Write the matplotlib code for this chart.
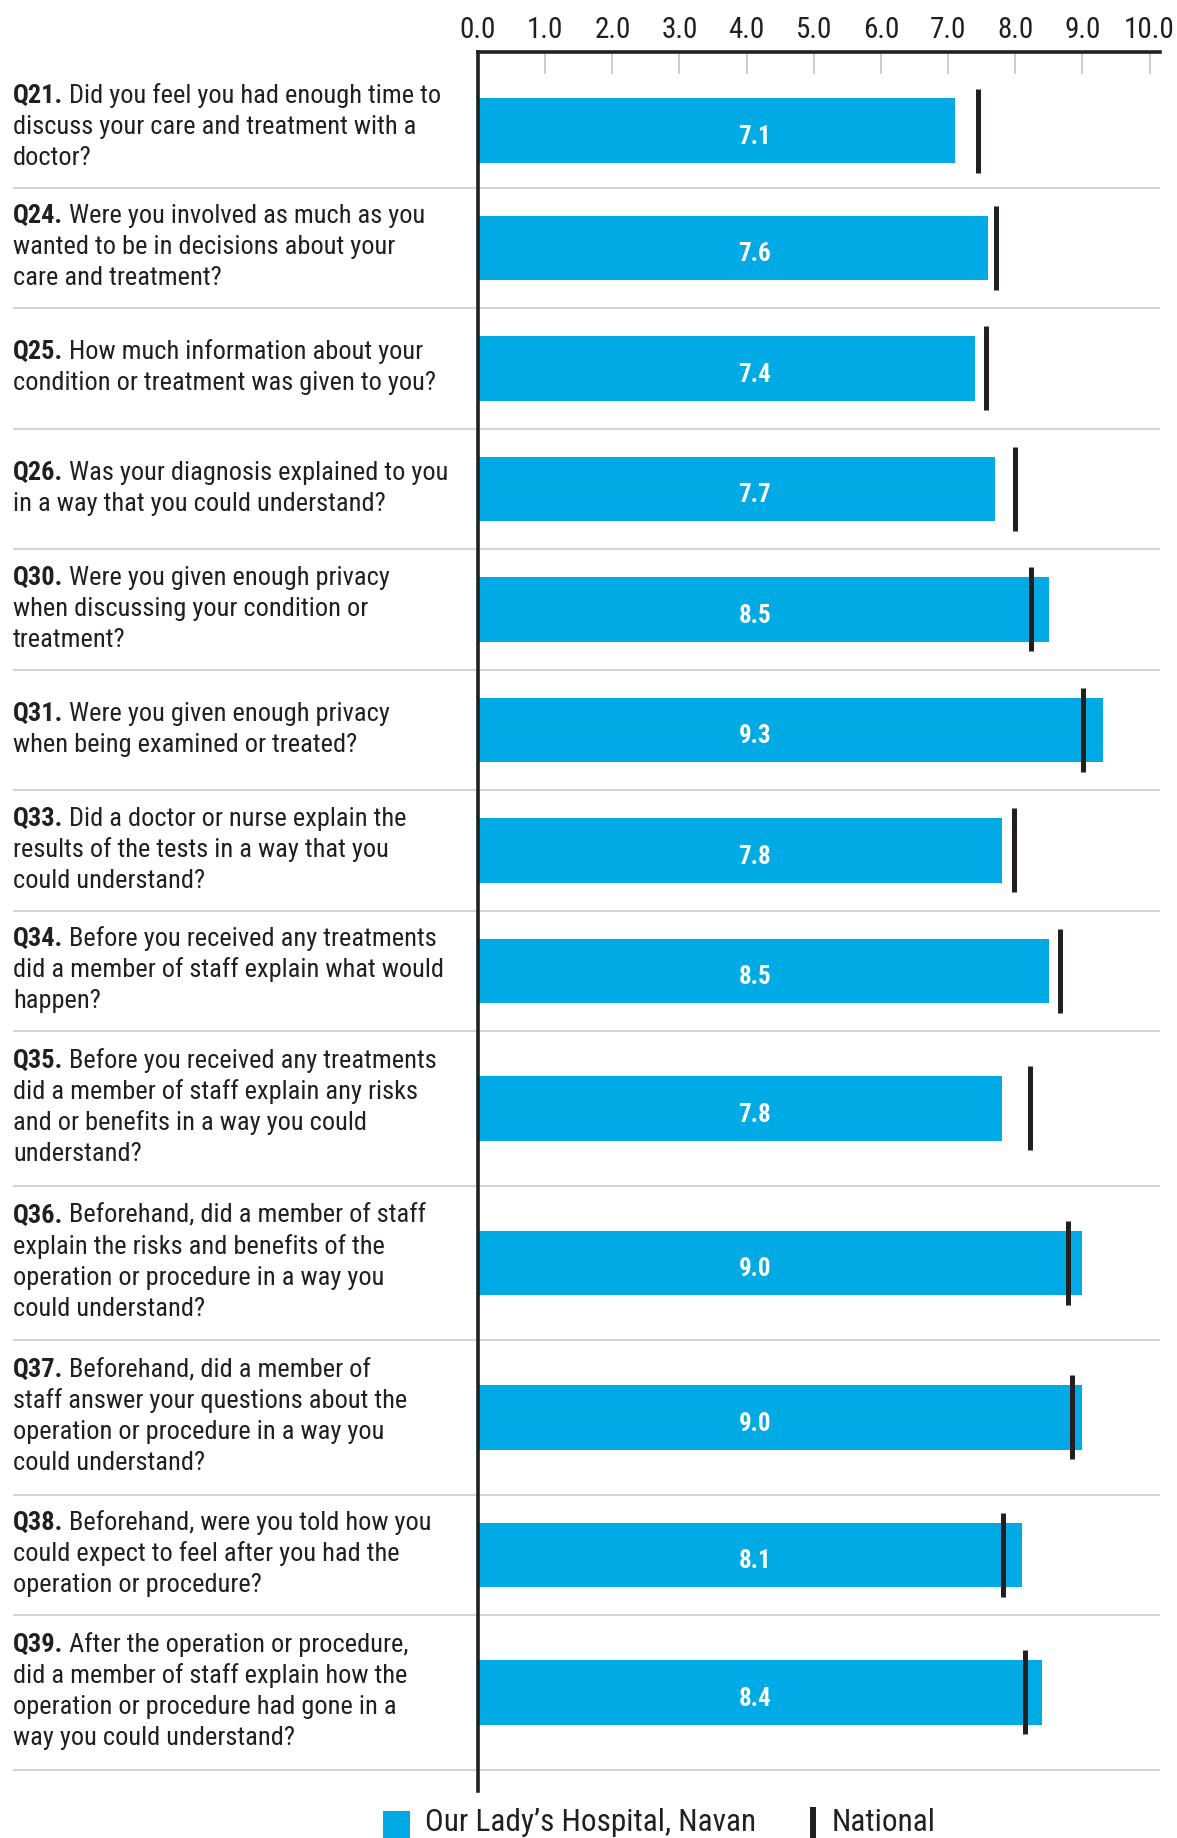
import numpy as np
import matplotlib
matplotlib.use("Agg")
import matplotlib.pyplot as plt
from matplotlib import font_manager
from matplotlib.patches import Rectangle

# ---- data -------------------------------------------------------------
codes = ["Q21.", "Q24.", "Q25.", "Q26.", "Q30.", "Q31.", "Q33.",
         "Q34.", "Q35.", "Q36.", "Q37.", "Q38.", "Q39."]
questions = [
    "Did you feel you had enough time to\ndiscuss your care and treatment with a\ndoctor?",
    "Were you involved as much as you\nwanted to be in decisions about your\ncare and treatment?",
    "How much information about your\ncondition or treatment was given to you?",
    "Was your diagnosis explained to you\nin a way that you could understand?",
    "Were you given enough privacy\nwhen discussing your condition or\ntreatment?",
    "Were you given enough privacy\nwhen being examined or treated?",
    "Did a doctor or nurse explain the\nresults of the tests in a way that you\ncould understand?",
    "Before you received any treatments\ndid a member of staff explain what would\nhappen?",
    "Before you received any treatments\ndid a member of staff explain any risks\nand or benefits in a way you could\nunderstand?",
    "Beforehand, did a member of staff\nexplain the risks and benefits of the\noperation or procedure in a way you\ncould understand?",
    "Beforehand, did a member of\nstaff answer your questions about the\noperation or procedure in a way you\ncould understand?",
    "Beforehand, were you told how you\ncould expect to feel after you had the\noperation or procedure?",
    "After the operation or procedure,\ndid a member of staff explain how the\noperation or procedure had gone in a\nway you could understand?",
]
hospital = [7.1, 7.6, 7.4, 7.7, 8.5, 9.3, 7.8, 8.5, 7.8, 9.0, 9.0, 8.1, 8.4]
national = [7.44, 7.72, 7.57, 8.00, 8.23, 9.01, 7.98, 8.66, 8.22, 8.78, 8.84, 7.81, 8.15]
x_ticks = np.arange(0, 11)
legend_labels = ["Our Lady\u2019s Hospital, Navan", "National"]

# ---- style ------------------------------------------------------------
BLUE = "#00AAE4"
DARK = "#231F20"
GRID = "#D4D4D4"
TICK = "#C8C8C8"


def pick_font(cands):
    names = {f.name for f in font_manager.fontManager.ttflist}
    for c in cands:
        if c in names:
            return c
    return "DejaVu Sans"


FONT = pick_font(["Liberation Sans Narrow", "Roboto Condensed", "Liberation Sans", "Roboto"])
plt.rcParams["font.family"] = [FONT, "DejaVu Sans"]

W, H = 1177, 1838
X0, X1 = 478, 1160          # plot area, px
TOP, BOT = 52, 1791
UNIT = 67.16                # px per score point

fig = plt.figure(figsize=(W / 100, H / 100), dpi=100)

# overlay in pixel coordinates for labels, separators, legend
ov = fig.add_axes([0, 0, 1, 1])
ov.set_xlim(0, W); ov.set_ylim(H, 0); ov.axis("off")

ax = fig.add_axes([X0 / W, 1 - BOT / H, (X1 - X0) / W, (BOT - TOP) / H])
ax.set_facecolor("none")
ax.set_xlim(0, (X1 - X0) / UNIT)
ax.set_ylim(BOT, TOP)       # y in px from top

# row layout from number of text lines
ROW0 = 67
n_lines = np.array([len(q.split("\n")) for q in questions])
heights = 18.5 + 34 * np.maximum(3, n_lines)
bottoms = ROW0 + np.cumsum(heights)
text_mid = bottoms - heights / 2
# bars of the first row sit just under the tick marks
centers = text_mid.copy()
centers[0] = (TOP + 21.5 + bottoms[0]) / 2

ov.hlines(bottoms, 13, X1, color=GRID, lw=1.5)

# bars + national markers
ax.barh(centers, hospital, height=64.5, color=BLUE, zorder=2)
ax.vlines(national, centers - 42, centers + 42, color=DARK, lw=3.6, zorder=3)
for c, v in zip(centers, hospital):
    ax.text(4.12, c + 13.5, f"{v:.1f}", ha="center", va="baseline",
            color="white", fontsize=18, fontweight="bold", zorder=4)

# axes decoration
for s in ("right", "bottom"):
    ax.spines[s].set_visible(False)
for s in ("top", "left"):
    ax.spines[s].set_color(DARK)
    ax.spines[s].set_linewidth(2.6)
    ax.spines[s].set_zorder(5)
ax.xaxis.tick_top()
ax.set_xticks(x_ticks)
ax.set_xticklabels([f"{t:.1f}" for t in x_ticks])
ax.tick_params(axis="x", direction="in", length=16, width=1.3, color=TICK,
               pad=6, labelsize=21, labelcolor=DARK)
ax.set_yticks([])

# question labels: bold code + regular text
LS = 31.0
CAP = 19.3
for code, q, c in zip(codes, questions, text_mid):
    lines = q.split("\n")
    block = (len(lines) - 1) * LS + CAP
    b0 = c - 3 - block / 2 + CAP
    t = ov.text(13, b0, code, fontsize=19, fontweight="bold", color=DARK, va="baseline")
    ov.annotate(" " + lines[0], xy=(1, 0), xycoords=t, ha="left", va="bottom",
                fontsize=19, color=DARK)
    for i, line in enumerate(lines[1:], start=1):
        ov.text(13, b0 + i * LS, line, fontsize=19, color=DARK, va="baseline")

# legend
ov.add_patch(Rectangle((383, 1811), 27, 27, color=BLUE, lw=0))
ov.text(425, 1831, legend_labels[0], fontsize=22.5, color=DARK, va="baseline")
ov.vlines(813, 1807, 1845, color=DARK, lw=4.3)
ov.text(832, 1831, legend_labels[1], fontsize=22.5, color=DARK, va="baseline")

fig.savefig("out.png", dpi=100)
